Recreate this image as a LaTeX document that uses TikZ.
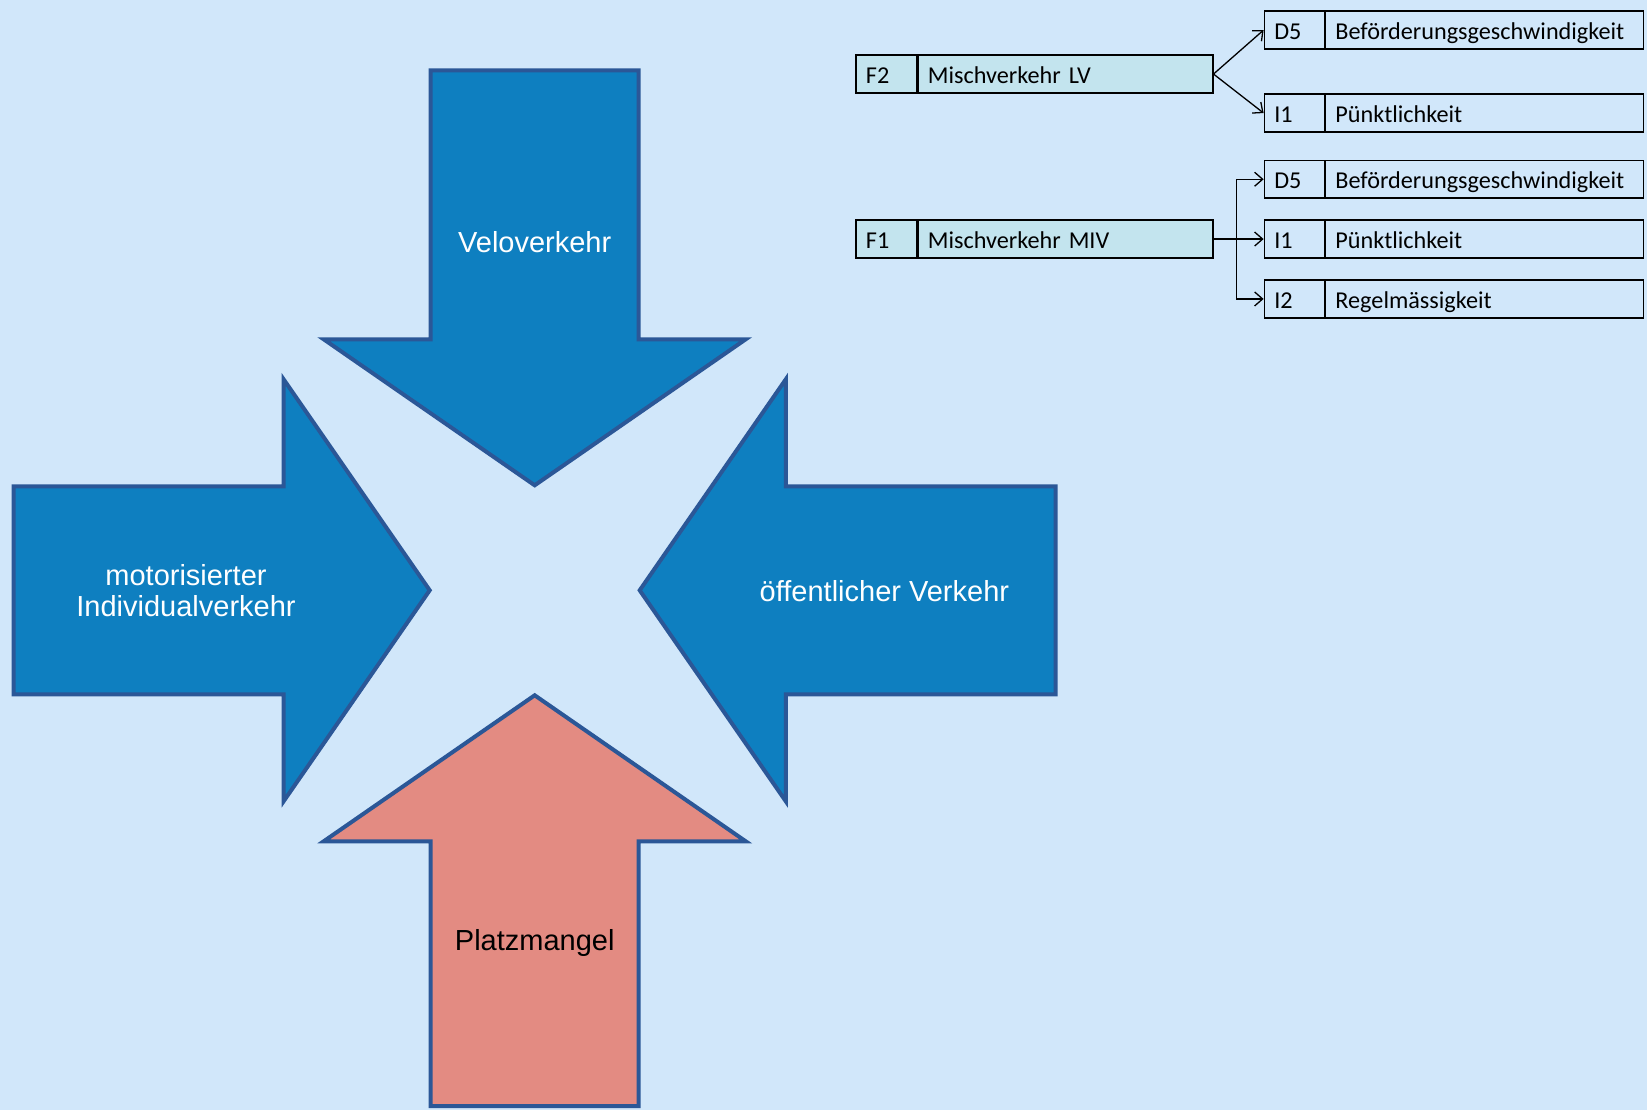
\documentclass[tikz,border=0pt]{standalone}
\usepackage{fontspec}
\setmainfont{Liberation Sans}
\newfontfamily\boxfont{Carlito}
\newcommand\cellfontsetup{\boxfont\fontsize{24.2}{26}\selectfont\spaceskip=0.24em\relax}
\usetikzlibrary{arrows.meta}
\definecolor{bg}{HTML}{D1E7FA}
\definecolor{arrowfill}{HTML}{0E7FC0}
\definecolor{arrowedge}{HTML}{2B5797}
\definecolor{redfill}{HTML}{E38B82}
\definecolor{tealfill}{HTML}{C3E4EE}
\tikzset{
  bigarrow/.style={draw=arrowedge, line width=4pt, line join=miter, fill=arrowfill},
  redarrow/.style={bigarrow, fill=redfill},
  arrowtext/.style={font=\fontsize{29}{31}\selectfont, text=white, align=center, inner sep=0pt},
  codecell/.style={draw=black, line width=1.3pt, minimum height=37.8pt, inner sep=0pt, text height=20.5pt, text depth=1.5pt, align=left, font=\cellfontsetup, text=black, anchor=north west},
  lcode/.style={codecell, fill=tealfill, minimum width=60.6pt, text width=40.6pt},
  ltext/.style={codecell, fill=tealfill, minimum width=295pt, text width=275pt},
  rcode/.style={codecell, fill=bg, minimum width=59.9pt, text width=39.9pt},
  rtext/.style={codecell, fill=bg, minimum width=318.2pt, text width=298.2pt},
  conn/.style={draw=black, line width=1.3pt, -{Straight Barb[length=8pt,width=14pt,line width=1.3pt]}}
}
\begin{document}
\begin{tikzpicture}[x=1pt,y=-1pt]
\fill[bg] (0,0) rectangle (1647,1110);
\useasboundingbox (0,0) rectangle (1647,1110);

% big arrows
\draw[bigarrow] (430.7,70.4) -- (638.7,70.4) -- (638.7,339.3) -- (745.7,339.3) -- (534.7,485.3) -- (323.7,339.3) -- (430.7,339.3) -- cycle;
\draw[bigarrow] (13.7,486.3) -- (283.6,486.3) -- (283.6,379.3) -- (429.7,590.3) -- (283.6,801.3) -- (283.6,694.3) -- (13.7,694.3) -- cycle;
\draw[bigarrow] (1055.7,486.3) -- (785.8,486.3) -- (785.8,379.3) -- (639.7,590.3) -- (785.8,801.3) -- (785.8,694.3) -- (1055.7,694.3) -- cycle;
\draw[redarrow] (430.7,1106) -- (638.7,1106) -- (638.7,841.3) -- (745.7,841.3) -- (534.7,695.3) -- (323.7,841.3) -- (430.7,841.3) -- cycle;

\node[arrowtext] (velo) at (534.7,242) {Veloverkehr};
\node[arrowtext] (miv) at (186,591) {motorisierter\\Individualverkehr};
\node[arrowtext] (oev) at (884.4,591) {öffentlicher Verkehr};
\node[arrowtext, text=black] (platz) at (534.7,943) {Platzmangel};

% left boxes
\node[lcode] (F2c) at (855.3,54.5) {F2};
\node[ltext] (F2) at (F2c.north east) {Mischverkehr LV};
\node[lcode] (F1c) at (855.3,219.5) {F1};
\node[ltext] (F1) at (F1c.north east) {Mischverkehr MIV};

% right boxes
\node[rcode] (Aa) at (1263.6,10.5) {D5};
\node[rtext] (At) at (Aa.north east) {Beförderungsgeschwindigkeit};
\node[rcode] (Ba) at (1263.6,93.5) {I1};
\node[rtext] (Bt) at (Ba.north east) {Pünktlichkeit};
\node[rcode] (Ca) at (1263.6,159.7) {D5};
\node[rtext] (Ct) at (Ca.north east) {Beförderungsgeschwindigkeit};
\node[rcode] (Da) at (1263.6,219.5) {I1};
\node[rtext] (Dt) at (Da.north east) {Pünktlichkeit};
\node[rcode] (Ea) at (1263.6,279.4) {I2};
\node[rtext] (Et) at (Ea.north east) {Regelmässigkeit};

% connectors
\draw[conn] (F2.east) -- (Aa.west);
\draw[conn] (F2.east) -- (Ba.west);
\draw[conn] (F1.east) -- (Da.west);
\draw[conn] (F1.east) -- ++(22.7,0) |- (Ca.west);
\draw[conn] (F1.east) -- ++(22.7,0) |- (Ea.west);
\end{tikzpicture}
\end{document}
